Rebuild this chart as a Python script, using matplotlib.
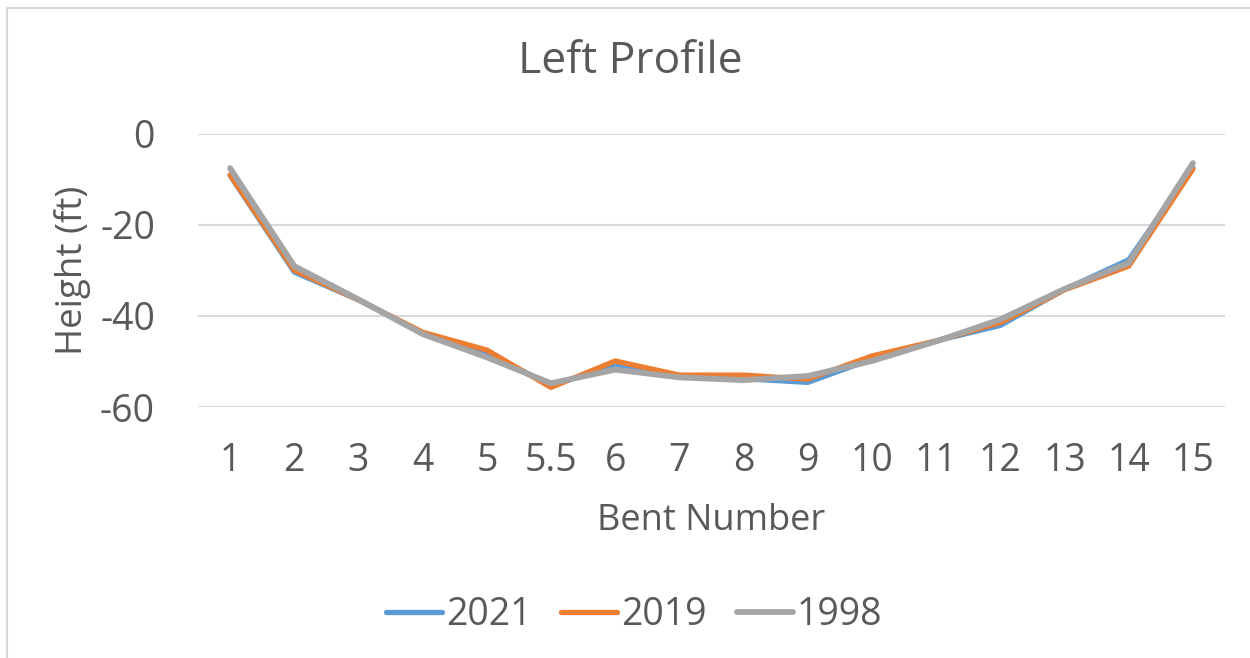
import matplotlib
matplotlib.use("Agg")
import matplotlib.pyplot as plt
from matplotlib.patches import Rectangle

plt.rcParams['font.family'] = ['Open Sans', 'DejaVu Sans']
plt.rcParams['axes.unicode_minus'] = False

bents = ["1", "2", "3", "4", "5", "5.5", "6", "7", "8", "9", "10", "11", "12", "13", "14", "15"]
h_2021 = [-9.2, -30.4, -36.5, -43.7, -48.3, -55.2, -51.0, -53.3, -53.8, -54.6, -49.5, -45.5, -42.1, -34.2, -27.7, -7.5]
h_2019 = [-9.1, -30.0, -36.5, -43.6, -47.5, -55.7, -49.9, -53.0, -53.0, -53.9, -48.8, -45.5, -41.5, -34.3, -29.1, -7.8]
h_1998 = [-7.6, -29.1, -36.4, -44.0, -49.1, -54.8, -51.8, -53.5, -54.1, -53.2, -49.9, -45.6, -40.8, -34.1, -28.4, -6.5]

txt = "#595959"
fig = plt.figure(figsize=(12.5, 6.58), dpi=100)
fig.patches.append(Rectangle((7 / 1250, -0.05), 1.2, 1 - 8 / 658 + 0.05, transform=fig.transFigure,
                             fill=False, edgecolor="#d9d9d9", linewidth=1.5))

ax = fig.add_axes([198 / 1250, 1 - 407 / 658, 1027 / 1250, 273.5 / 658])
x = list(range(len(bents)))
ax.plot(x, h_2021, color="#5B9BD5", lw=3.8, label="2021", solid_capstyle="round")
ax.plot(x, h_2019, color="#ED7D31", lw=3.8, label="2019", solid_capstyle="round")
ax.plot(x, h_1998, color="#A5A5A5", lw=4.2, label="1998", solid_capstyle="round")

ax.set_xlim(-0.5, len(bents) - 0.5)
ax.set_ylim(-60, 0)
ax.set_yticks([0, -20, -40, -60])
ax.set_xticks(x)
ax.set_xticklabels(bents)
ax.grid(axis="y", color="#d9d9d9", linewidth=1.5)
ax.set_axisbelow(True)
for s in ax.spines.values():
    s.set_visible(False)
ax.tick_params(axis="y", length=0, pad=31, labelsize=27, labelcolor=txt)
ax.tick_params(axis="x", length=0, pad=25, labelsize=27, labelcolor=txt)

ax.set_ylabel("Height (ft)", fontsize=26.5, color=txt)
ax.yaxis.set_label_coords(-0.104, 0.5)
ax.set_xlabel("Bent Number", fontsize=26, color=txt)
ax.xaxis.set_label_coords(0.5, -0.352)

fig.text(0.504, 1 - 62 / 658, "Left Profile", ha="center", va="center", fontsize=32, color=txt)

fig.legend(loc="center", bbox_to_anchor=(634 / 1250, 1 - 615 / 658), ncol=3, frameon=False,
           fontsize=27, handlelength=1.5, handletextpad=0.1, columnspacing=0.8, labelcolor=txt)

fig.savefig("out.png", dpi=100)
